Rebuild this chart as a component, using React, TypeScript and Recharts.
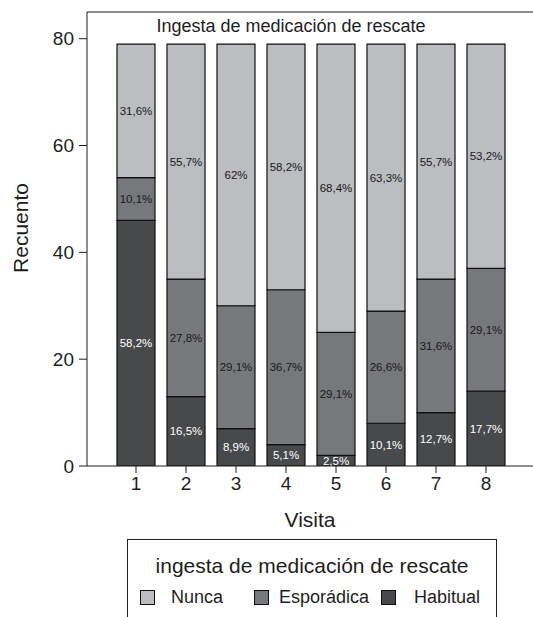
import React from 'react';
import { BarChart, Bar, XAxis, YAxis, LabelList, ReferenceLine } from 'recharts';

const visits = ['1', '2', '3', '4', '5', '6', '7', '8'];
const habitual = [46, 13, 7, 4, 2, 8, 10, 14];
const esporadica = [8, 22, 23, 29, 23, 21, 25, 23];
const nunca = [25, 44, 49, 46, 54, 50, 44, 42];
const habitualPct = ['58,2%', '16,5%', '8,9%', '5,1%', '2,5%', '10,1%', '12,7%', '17,7%'];
const esporadicaPct = ['10,1%', '27,8%', '29,1%', '36,7%', '29,1%', '26,6%', '31,6%', '29,1%'];
const nuncaPct = ['31,6%', '55,7%', '62%', '58,2%', '68,4%', '63,3%', '55,7%', '53,2%'];
const yTicks = [0, 20, 40, 60, 80];

const seriesNames = ['Nunca', 'Esporádica', 'Habitual'];
const colors = { nunca: '#bcbdc1', esporadica: '#77787c', habitual: '#48494b' };

const data = visits.map((v, i) => ({
  visita: v,
  habitual: habitual[i],
  esporadica: esporadica[i],
  nunca: nunca[i],
  habitualPct: habitualPct[i],
  esporadicaPct: esporadicaPct[i],
  nuncaPct: nuncaPct[i],
}));

const FONT = '"Liberation Sans", Arial, Helvetica, sans-serif';
const INK = '#1e1e1e';

export default function App() {
  const legendColors = [colors.nunca, colors.esporadica, colors.habitual];
  const squareLefts = [12, 126, 253];
  const textLefts = [43, 151, 286];
  return (
    <div style={{ position: 'absolute', left: 0, top: 0, width: 533, height: 617, overflow: 'hidden', background: '#fff', fontFamily: FONT }}>
      <BarChart
        width={533}
        height={617}
        data={data}
        margin={{ top: 12, right: 0, bottom: 0, left: 0 }}
        style={{ fontFamily: FONT }}
      >
        <YAxis
          width={87}
          domain={[0, 85]}
          ticks={yTicks}
          allowDataOverflow
          tickSize={8}
          tickMargin={5}
          stroke={INK}
          tick={{ fill: INK, fontSize: 19 }}
          label={{
            content: () => (
              <text x={20} y={228} transform="rotate(-90 20 228)" textAnchor="middle" dominantBaseline="central" fill={INK} fontSize={21} fontFamily={FONT}>
                Recuento
              </text>
            ),
          }}
        />
        <XAxis
          dataKey="visita"
          height={151}
          padding={{ left: 24, right: 22 }}
          tickSize={7}
          tickMargin={4}
          stroke={INK}
          tick={{ fill: INK, fontSize: 19 }}
          label={{
            content: () => (
              <text x={310} y={519} textAnchor="middle" dominantBaseline="central" fill={INK} fontSize={21} fontFamily={FONT}>
                Visita
              </text>
            ),
          }}
        />
        <ReferenceLine
          y={85}
          stroke={INK}
          strokeWidth={1.2}
          label={{
            content: () => (
              <text x={291} y={26} textAnchor="middle" dominantBaseline="central" fill={INK} fontSize={18} fontFamily={FONT}>
                Ingesta de medicación de rescate
              </text>
            ),
          }}
        />
        <Bar dataKey="habitual" stackId="a" name="Habitual" fill={colors.habitual} stroke="#111" strokeWidth={1.2} barSize={38} isAnimationActive={false}>
          <LabelList dataKey="habitualPct" position="center" fill="#fff" fontSize={11.5} fontFamily={FONT} />
        </Bar>
        <Bar dataKey="esporadica" stackId="a" name="Esporádica" fill={colors.esporadica} stroke="#111" strokeWidth={1.2} barSize={38} isAnimationActive={false}>
          <LabelList dataKey="esporadicaPct" position="center" fill="#1a1a1a" fontSize={11.5} fontFamily={FONT} />
        </Bar>
        <Bar dataKey="nunca" stackId="a" name="Nunca" fill={colors.nunca} stroke="#111" strokeWidth={1.2} barSize={38} isAnimationActive={false}>
          <LabelList dataKey="nuncaPct" position="center" fill="#1a1a1a" fontSize={11.5} fontFamily={FONT} />
        </Bar>
      </BarChart>
      <div
        style={{
          position: 'absolute',
          left: 127,
          top: 539,
          width: 370,
          height: 78,
          borderTop: `1.2px solid ${INK}`,
          borderLeft: `1.2px solid ${INK}`,
          borderRight: `1.2px solid ${INK}`,
          boxSizing: 'border-box',
          color: INK,
        }}
      >
        <div style={{ position: 'absolute', left: 0, right: 0, top: 13, textAlign: 'center', fontSize: 21, lineHeight: '26px' }}>
          ingesta de medicación de rescate
        </div>
        {seriesNames.map((name, i) => (
          <React.Fragment key={name}>
            <span style={{ position: 'absolute', left: squareLefts[i], top: 50, width: 13, height: 13, background: legendColors[i], border: '1px solid #111' }} />
            <span style={{ position: 'absolute', left: textLefts[i], top: 45, fontSize: 18, lineHeight: '24px' }}>{name}</span>
          </React.Fragment>
        ))}
      </div>
    </div>
  );
}
